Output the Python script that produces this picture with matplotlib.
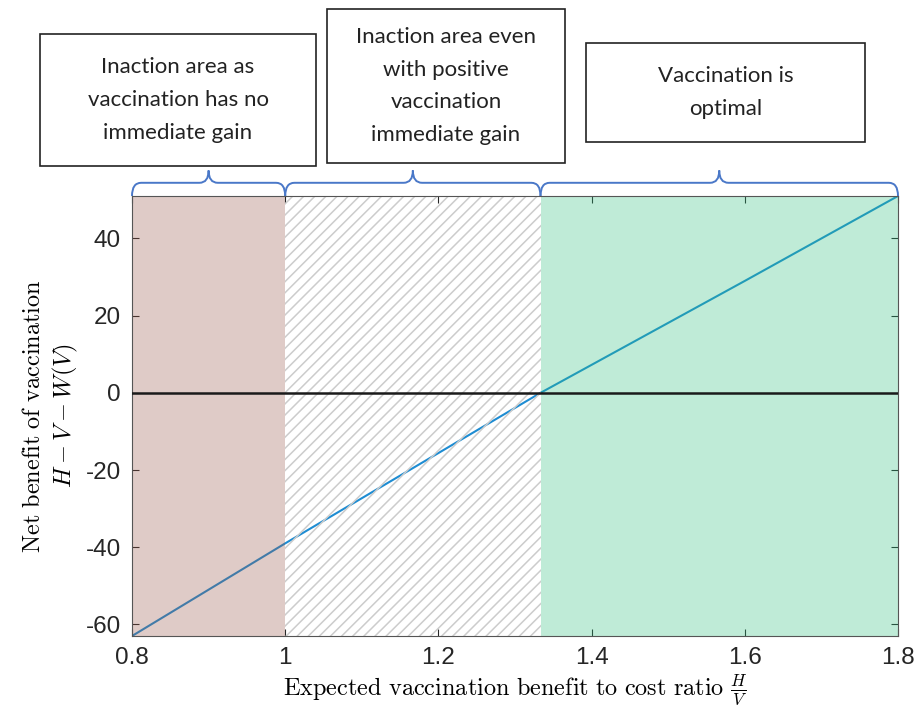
import matplotlib
matplotlib.use("Agg")
import matplotlib.pyplot as plt
from matplotlib.patches import Rectangle, PathPatch
from matplotlib.path import Path
from matplotlib.transforms import blended_transform_factory

plt.rcParams['mathtext.fontset'] = 'cm'
plt.rcParams['font.family'] = ['Liberation Sans', 'DejaVu Sans']
plt.rcParams['hatch.color'] = '#cccccc'
plt.rcParams['hatch.linewidth'] = 1.1

# values
ratio = [0.8, 1.0, 1.2, 1.3333, 1.6, 1.8]
net_benefit = [-63, -39, -15.6, 0, 29, 51]
x_ticks = [0.8, 1.0, 1.2, 1.4, 1.6, 1.8]
x_tick_labels = ['0.8', '1', '1.2', '1.4', '1.6', '1.8']
y_ticks = [-60, -40, -20, 0, 20, 40]
y_tick_labels = ['-60', '-40', '-20', '0', '20', '40']
region_edges = [0.8, 1.0, 1.3333, 1.8]
region_texts = ['Inaction area as\nvaccination has no\nimmediate gain',
                'Inaction area even\nwith positive\nvaccination\nimmediate gain',
                'Vaccination is\noptimal']

W, H = 922, 715
fig = plt.figure(figsize=(W / 100, H / 100), dpi=100)
ax = fig.add_axes([132 / W, 79 / H, 766 / W, 440 / H])

ax.plot(ratio, net_benefit, color='#1e8cd2', lw=1.5, zorder=1)
ax.axvspan(region_edges[0], region_edges[1], color=(152/255, 85/255, 72/255), alpha=0.3, lw=0, zorder=2)
ax.axvspan(region_edges[1], region_edges[2], facecolor='none', edgecolor='#cccccc', hatch='///', lw=0, zorder=2)
ax.axvspan(region_edges[2], region_edges[3], color=(45/255, 192/255, 125/255), alpha=0.3, lw=0, zorder=2)
ax.axhline(0, color='#1a1a1a', lw=1.8, zorder=4)

ax.set_xlim(0.8, 1.8)
ax.set_ylim(-63, 51)
ax.set_xticks(x_ticks)
ax.set_xticklabels(x_tick_labels)
ax.set_yticks(y_ticks)
ax.set_yticklabels(y_tick_labels)
ax.tick_params(direction='in', top=True, right=True, labelsize=17.5, colors='#262626', length=5, pad=8)
for s in ax.spines.values():
    s.set_color('#555555')
    s.set_linewidth(0.8)

ax.set_xlabel(r'$\mathrm{Expected\ vaccination\ benefit\ to\ cost\ ratio}\ \frac{H}{V}$', fontsize=17.5, labelpad=2)
ax.set_ylabel('$\\mathrm{Net\\ benefit\\ of\\ vaccination}$\n$H-V-W(V)$', fontsize=17.5, labelpad=4,
              linespacing=1.3)

# braces above the regions
trans = blended_transform_factory(ax.transData, ax.transAxes)
hy, ty, r = 1.03, 1.058, 0.012
for x0, x1 in zip(region_edges[:-1], region_edges[1:]):
    m = (x0 + x1) / 2
    verts = [(x0, 1.0), (x0, hy), (x0 + r, hy), (m - r, hy), (m, hy), (m, ty),
             (m, hy), (m + r, hy), (x1 - r, hy), (x1, hy), (x1, 1.0)]
    codes = [Path.MOVETO, Path.CURVE3, Path.CURVE3, Path.LINETO, Path.CURVE3, Path.CURVE3,
             Path.CURVE3, Path.CURVE3, Path.LINETO, Path.CURVE3, Path.CURVE3]
    ax.add_patch(PathPatch(Path(verts, codes), transform=trans, fill=False,
                           edgecolor='#4a78c8', lw=1.4, clip_on=False))

# text boxes (pixel layout: left, top, right, bottom)
boxes = [(40, 34, 316, 166), (327, 9, 565, 163), (586, 43, 865, 142)]
for (l, t, rr, b), txt in zip(boxes, region_texts):
    fig.patches.append(Rectangle((l / W, 1 - b / H), (rr - l) / W, (b - t) / H,
                                 transform=fig.transFigure, fill=False, edgecolor='#222222', lw=1.2))
    fig.text((l + rr) / 2 / W, 1 - (t + b) / 2 / H, txt, ha='center', va='center',
             fontsize=16, family=['Lato', 'DejaVu Sans'], linespacing=1.8, color='#222222')

fig.savefig('out.png', dpi=100)
